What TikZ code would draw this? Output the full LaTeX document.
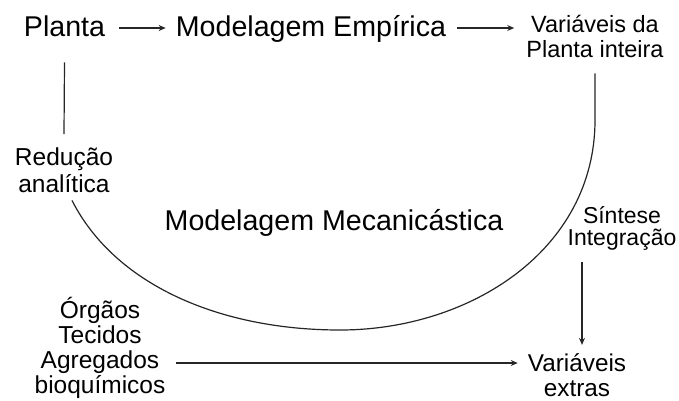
\documentclass[tikz,border=0pt]{standalone}
\usepackage{fontspec}
\setmainfont{Liberation Sans}
\usetikzlibrary{arrows.meta,calc}
\begin{document}
\begin{tikzpicture}[x=1pt,y=-1pt,
  big/.style={inner sep=0pt,anchor=base,font=\fontsize{28.6}{30}\selectfont},
  small/.style={inner sep=0pt,anchor=base,align=center},
  ln/.style={line width=1.2pt,color=black!85},
  arr/.style={ln,-{Stealth[length=7pt,width=6pt]}}]
\useasboundingbox (0,0) rectangle (679,400);
\node[big] (planta) at (64.5,36) {Planta};
\node[big] (emp) at (311,36) {Modelagem Empírica};
\node[small,font=\fontsize{23.5}{25}\selectfont] (varpl) at (595,57) {Variáveis da\\Planta inteira};
\node[small,font=\fontsize{24.5}{27}\selectfont] (red) at (64,192) {Redução\\analítica};
\node[big] (mec) at (334,230) {Modelagem Mecanicástica};
\node[small,font=\fontsize{23}{22}\selectfont] (sint) at (622,245) {Síntese\\Integração};
\node[small,font=\fontsize{24.5}{25}\selectfont] (org) at (100,393) {Órgãos\\Tecidos\\Agregados\\bioquímicos};
\node[small,font=\fontsize{24.3}{25}\selectfont] (vext) at (577,396) {Variáveis\\extras};
\coordinate (a1s) at ([xshift=14pt,yshift=8pt]planta.base east);
\draw[arr] (a1s) -- ([xshift=-10pt]a1s -| emp.west);
\coordinate (a2s) at ([xshift=11pt,yshift=8pt]emp.base east);
\draw[arr] (a2s) -- ([xshift=-12pt]a2s -| varpl.west);
\draw[ln] ([yshift=-26pt]planta.south) -- ([yshift=13pt]red.north);
\draw[ln] ([yshift=-16pt]varpl.south) -- (595,120) .. controls (595,250) and (470,330) .. (340,330) .. controls (220,330) and (115,285) .. ([xshift=8pt,yshift=-8pt]red.south);
\coordinate (a3s) at ([xshift=-40pt,yshift=-12pt]sint.south);
\draw[arr] (a3s) -- ([yshift=8pt]a3s |- vext.north);
\coordinate (a4s) at ([xshift=10pt]org.east |- vext.base);
\draw[arr] ([yshift=33pt]a4s) -- ([xshift=-10pt,yshift=33pt]vext.base west);
\end{tikzpicture}
\end{document}
